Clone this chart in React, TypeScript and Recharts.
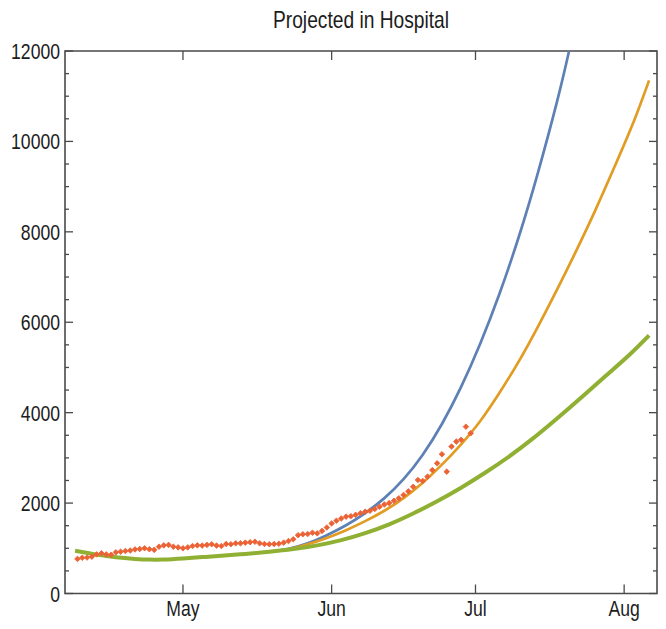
import React from 'react';
import { ComposedChart, Line, Scatter, XAxis, YAxis, ReferenceArea } from 'recharts';

// Days counted from 1 May
const monthTickDays = [0, 31, 61, 92];
const monthTickLabels = ['May', 'Jun', 'Jul', 'Aug'];
const yMajorTicks = [0, 2000, 4000, 6000, 8000, 10000, 12000];
const yMinorTicks = [500, 1000, 1500, 2500, 3000, 3500, 4500, 5000, 5500, 6500, 7000, 7500, 8500, 9000, 9500, 10500, 11000, 11500];

const observedStartDay = -22;
const observedValues = [
  765, 790, 795, 815, 865, 890, 865, 855, 910, 925,
  940, 950, 975, 985, 1000, 980, 965, 1035, 1065, 1075,
  1035, 1020, 1000, 1020, 1050, 1065, 1060, 1075, 1090, 1060,
  1050, 1095, 1090, 1110, 1110, 1125, 1135, 1145, 1110, 1095,
  1090, 1095, 1100, 1125, 1160, 1200, 1290, 1310, 1315, 1345,
  1330, 1385, 1460, 1550, 1610, 1660, 1700, 1710, 1740, 1775,
  1810, 1830, 1870, 1920, 1970, 2000, 2050, 2105, 2180, 2260,
  2360, 2510, 2490, 2585, 2730, 2880, 3080, 2695, 3250, 3360,
  3400, 3690, 3545,
];

const blueDays = [18, 22, 26, 30, 34, 38, 42, 46, 50, 54, 58, 62, 66, 70, 74, 78, 80.3, 82];
const blueValues = [925, 990, 1110, 1290, 1510, 1780, 2110, 2530, 3070, 3750, 4570, 5530, 6630, 7880, 9300, 10880, 11900, 12700];

const orangeDays = [18, 22, 26, 30, 34, 38, 42, 46, 50, 54, 58, 62, 66, 70, 74, 78, 82, 86, 90, 94, 97.2];
const orangeValues = [925, 985, 1090, 1230, 1400, 1600, 1830, 2110, 2450, 2850, 3300, 3815, 4440, 5130, 5900, 6720, 7580, 8480, 9440, 10440, 11350];

const greenDays = [-22.5, -18, -14, -10, -7, -4, 0, 4, 8, 13, 18, 23, 28, 33, 38, 43, 48, 53, 58, 63, 68, 73, 78, 83, 88, 93, 97.2];
const greenValues = [945, 860, 800, 765, 750, 752, 775, 805, 835, 875, 925, 985, 1065, 1180, 1335, 1530, 1770, 2040, 2340, 2670, 3030, 3430, 3870, 4330, 4800, 5270, 5710];

const W = 666;
const H = 629;
const LEFT = 65;
const RIGHT = 657;
const TOP = 51;
const BOTTOM = 593.5;
const X_MIN = -24.6;
const X_MAX = 98.85;
const FRAME = '#4a4a4a';
const TEXT = '#1c1c1c';
const FONT = 'Arial, "Liberation Sans", Helvetica, sans-serif';

const toPoints = (days: number[], values: number[]) => days.map((d, i) => ({ d, v: values[i] }));
const blueData = toPoints(blueDays, blueValues);
const orangeData = toPoints(orangeDays, orangeValues);
const greenData = toPoints(greenDays, greenValues);
const observedData = observedValues.map((v, i) => ({ d: observedStartDay + i, v }));

const YTick = (props: any) => {
  const { y, payload } = props;
  const v = payload.value as number;
  const major = yMajorTicks.includes(v);
  const len = major ? 8 : 4;
  return (
    <g>
      <line x1={LEFT} x2={LEFT + len} y1={y} y2={y} stroke={FRAME} strokeWidth={1.3} />
      <line x1={RIGHT - len} x2={RIGHT} y1={y} y2={y} stroke={FRAME} strokeWidth={1.3} />
      {major && (
        <text
          transform={`translate(${LEFT - 5},${y + 8}) scale(0.8,1)`}
          textAnchor="end"
          fontSize={22}
          fontFamily={FONT}
          fill={TEXT}
        >
          {v}
        </text>
      )}
    </g>
  );
};

const XTick = (props: any) => {
  const { x, payload } = props;
  const idx = monthTickDays.indexOf(payload.value);
  const label = idx >= 0 ? monthTickLabels[idx] : '';
  return (
    <g>
      <line x1={x} x2={x} y1={BOTTOM} y2={BOTTOM - 9} stroke={FRAME} strokeWidth={1.3} />
      <line x1={x} x2={x} y1={TOP} y2={TOP + 9} stroke={FRAME} strokeWidth={1.3} />
      <text
        transform={`translate(${x},${BOTTOM + 22}) scale(0.8,1)`}
        textAnchor="middle"
        fontSize={22}
        fontFamily={FONT}
        fill={TEXT}
      >
        {label}
      </text>
    </g>
  );
};

const Marker = (props: any) => {
  const { cx, cy } = props;
  if (cx == null || cy == null) return null;
  const r = 2.8;
  return (
    <path
      d={`M${cx - r},${cy} L${cx},${cy - r} L${cx + r},${cy} L${cx},${cy + r} Z`}
      fill="#EB6235"
      stroke="#EB6235"
      strokeWidth={0.8}
    />
  );
};

export default function App() {
  return (
    <div style={{ position: 'absolute', left: 0, top: 0, width: W, height: H, background: '#fff' }}>
      <svg width={W} height={50} style={{ position: 'absolute', left: 0, top: 0 }}>
        <text
          transform={`translate(${(LEFT + RIGHT) / 2},${28}) scale(0.8,1)`}
          textAnchor="middle"
          fontSize={24}
          fontFamily={FONT}
          fill={TEXT}
        >
          Projected in Hospital
        </text>
      </svg>
      <div style={{ position: 'absolute', left: 0, top: 0 }}>
        <ComposedChart
          width={W}
          height={H}
          margin={{ top: TOP, right: W - RIGHT, left: 0, bottom: 0 }}
        >
          <XAxis
            type="number"
            dataKey="d"
            domain={[X_MIN, X_MAX]}
            allowDataOverflow
            ticks={monthTickDays}
            tick={<XTick />}
            tickLine={false}
            axisLine={false}
            height={H - BOTTOM}
            interval={0}
          />
          <YAxis
            type="number"
            dataKey="v"
            domain={[0, 12000]}
            allowDataOverflow
            ticks={[...yMajorTicks, ...yMinorTicks].sort((a, b) => a - b)}
            tick={<YTick />}
            tickLine={false}
            axisLine={false}
            width={LEFT}
            interval={0}
          />
          <ReferenceArea
            x1={X_MIN}
            x2={X_MAX}
            y1={0}
            y2={12000}
            fill="none"
            fillOpacity={0}
            stroke={FRAME}
            strokeWidth={1.6}
            isAnimationActive={false}
          />
          <Line
            data={blueData}
            dataKey="v"
            type="natural"
            stroke="#5E81B5"
            strokeWidth={2.7}
            dot={false}
            activeDot={false}
            isAnimationActive={false}
          />
          <Line
            data={orangeData}
            dataKey="v"
            type="natural"
            stroke="#E19C24"
            strokeWidth={2.7}
            dot={false}
            activeDot={false}
            isAnimationActive={false}
          />
          <Line
            data={greenData}
            dataKey="v"
            type="natural"
            stroke="#8FB032"
            strokeWidth={4}
            dot={false}
            activeDot={false}
            isAnimationActive={false}
          />
          <Scatter
            data={observedData}
            dataKey="v"
            shape={<Marker />}
            isAnimationActive={false}
          />
        </ComposedChart>
      </div>
    </div>
  );
}
